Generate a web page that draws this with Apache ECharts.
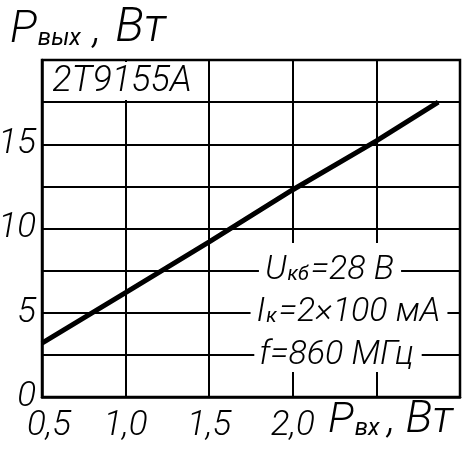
<!DOCTYPE html>
<html><head><meta charset="utf-8">
<script src="https://cdn.jsdelivr.net/npm/echarts@6/dist/echarts.min.js"></script>
<style>html,body{margin:0;padding:0;background:#fff}#c{width:462px;height:450px}</style>
</head><body><div id="c"></div>
<script>
// Data
const xValues = [0.5, 1.0, 1.5, 2.0, 2.5, 2.87];
const yValues = [3.2, 6.2, 9.2, 12.3, 15.2, 17.5];
const xTickLabels = {'0.5': '0,5', '1': '1,0', '1.5': '1,5', '2': '2,0'};
const yTickLabels = {'0': '0', '5': '5', '10': '10', '15': '15'};
const deviceName = '2Т9155А';
const yTitle = {main: 'P', sub: 'вых', unit: 'Вт'};
const xTitle = {main: 'P', sub: 'вх', unit: 'Вт'};
const conditions = [
  {main: 'U', sub: 'кб', rest: '=28 В'},
  {main: 'I', sub: 'к', rest: '=2×100 мА'},
  {main: 'f', sub: '', rest: '=860 МГц'}
];

const FONT = 'Roboto,"Liberation Sans Narrow","DejaVu Sans Condensed",sans-serif';
const FW = 300;
const chart = echarts.init(document.getElementById('c'), null, {renderer: 'canvas'});

const seriesData = xValues.map((x, i) => [x, yValues[i]]);

function richText(main, sub, rest) {
  return '{m|' + main + '}' + (sub ? '{s|' + sub + '}' : '') + '{m|' + rest + '}';
}
function titleText(t) {
  return '{m|' + t.main + '}{s|' + t.sub + '}{c|,}{u|' + t.unit + '}';
}
function richStyles(big, small, subPadRight, commaPad, unitSize) {
  const base = {fontStyle: 'italic', fontFamily: FONT, fill: '#000', color: '#000', verticalAlign: 'bottom'};
  return {
    m: Object.assign({fontSize: big, fontWeight: FW}, base),
    u: Object.assign({fontSize: unitSize || big, fontWeight: FW}, base),
    c: Object.assign({fontSize: big, fontWeight: FW, padding: commaPad || [0, 0, 0, 0]}, base),
    s: Object.assign({fontSize: small, fontWeight: 400, padding: [0, subPadRight || 2, 2, 1]}, base)
  };
}

const GRID = {left: 42, top: 60, right: 2, bottom: 53};

const option = {
  animation: false,
  backgroundColor: '#fff',
  grid: Object.assign({show: true, containLabel: false, outerBoundsMode: 'none', borderColor: '#000', borderWidth: 2.5, backgroundColor: 'transparent'}, GRID),
  xAxis: {
    type: 'value', min: 0.5, max: 3.0, interval: 0.5,
    axisLine: {show: true, onZero: false, lineStyle: {color: '#000', width: 2.5}},
    axisTick: {show: false},
    splitLine: {show: true, lineStyle: {color: '#000', width: 2}},
    axisLabel: {
      margin: 12, fontSize: 35, fontStyle: 'italic', fontWeight: FW, fontFamily: FONT, color: '#000',
      showMaxLabel: true, showMinLabel: true,
      formatter: v => {
        const t = xTickLabels[String(v)];
        if (!t) return '';
        return v === 0.5 ? '{a|' + t + '}' : t;
      },
      rich: {a: {fontSize: 35, fontStyle: 'italic', fontWeight: FW, fontFamily: FONT, color: '#000', padding: [0, 0, 0, 14]}}
    }
  },
  yAxis: {
    type: 'value', min: 0, max: 20, interval: 2.5,
    axisLine: {show: true, lineStyle: {color: '#000', width: 2.5}},
    axisTick: {show: false},
    splitLine: {show: true, lineStyle: {color: '#000', width: 2}},
    axisLabel: {
      margin: 6, fontSize: 35, fontStyle: 'italic', fontWeight: FW, fontFamily: FONT, color: '#000',
      formatter: v => yTickLabels[String(v)] || ''
    }
  },
  series: [{
    type: 'line', data: seriesData, symbol: 'none', z: 5,
    lineStyle: {color: '#000', width: 5}
  }],
  graphic: [
    // axis titles
    {type: 'text', left: 10, top: 5, z: 20,
      style: {text: titleText(yTitle), rich: richStyles(45, 24, 12, [0, 14, 0, 0], 48)}},
    {type: 'text', left: 328, top: 398, z: 20,
      style: {text: titleText(xTitle), rich: richStyles(43, 24, 8, [0, 10, 0, 0], 45)}},
    // device name box (covers the 1.0 gridline in the top row)
    {type: 'rect', shape: {x: 120, y: 62, width: 12, height: 38}, style: {fill: '#fff'}, z: 10},
    {type: 'text', x: 122, y: 82, z: 20,
      style: {text: deviceName, fontSize: 36, fontStyle: 'italic', fontWeight: FW, fontFamily: FONT, fill: '#000', align: 'center', verticalAlign: 'middle'}},
    // annotation area: vertical gridlines interrupted
    {type: 'rect', shape: {x: 289, y: 243, width: 12, height: 128}, style: {fill: '#fff'}, z: 10},
    {type: 'rect', shape: {x: 373, y: 243, width: 12, height: 128}, style: {fill: '#fff'}, z: 10},
    {type: 'text', x: 330, y: 270, z: 20,
      style: {text: richText(conditions[0].main, conditions[0].sub, conditions[0].rest), rich: richStyles(34, 20),
        align: 'center', verticalAlign: 'middle', backgroundColor: '#fff', padding: [0, 7, 0, 6]}},
    {type: 'text', x: 349, y: 312, z: 20,
      style: {text: richText(conditions[1].main, conditions[1].sub, conditions[1].rest), rich: richStyles(34, 20),
        align: 'center', verticalAlign: 'middle', backgroundColor: '#fff', padding: [0, 7, 0, 6]}},
    {type: 'text', x: 338, y: 355, z: 20,
      style: {text: richText(conditions[2].main, conditions[2].sub, conditions[2].rest), rich: richStyles(34, 20),
        align: 'center', verticalAlign: 'middle', backgroundColor: '#fff', padding: [0, 8, 0, 5]}}
  ]
};
chart.setOption(option);
</script>
</body></html>
